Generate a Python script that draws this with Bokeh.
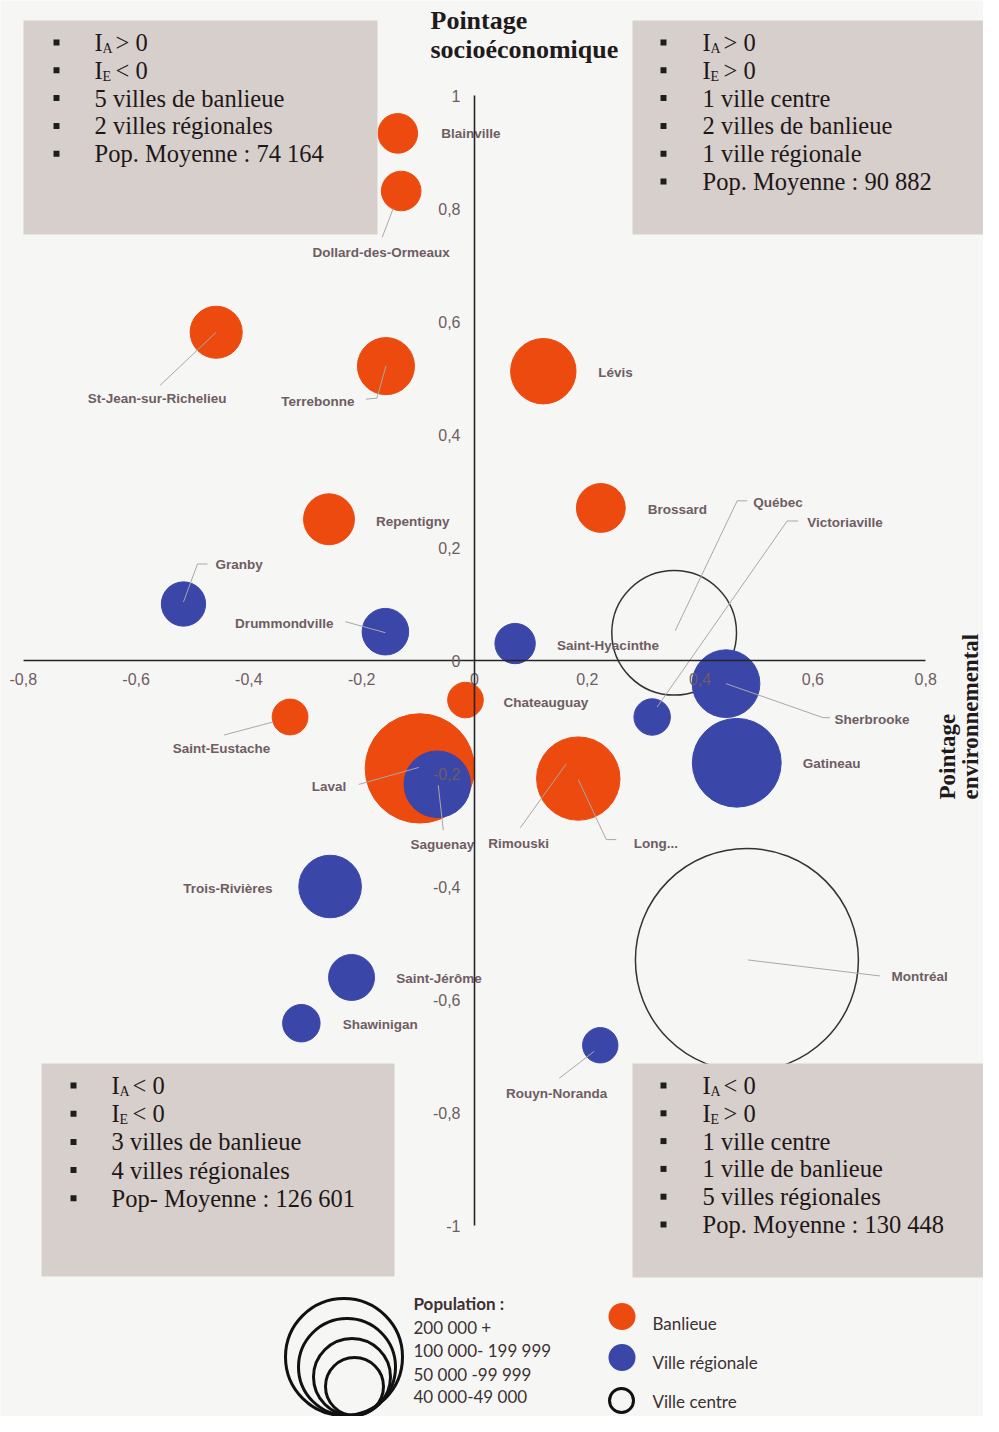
import math
from bokeh.plotting import figure
from bokeh.models import Range1d, FixedTicker, CustomJSTickFormatter, ColumnDataSource
from bokeh.transform import factor_cmap
from bokeh.core.properties import value
from bokeh.embed import file_html
from bokeh.resources import INLINE

# ---------------- data ----------------
CITIES = ["Montréal", "Québec", "Blainville", "Dollard-des-Ormeaux", "St-Jean-sur-Richelieu",
          "Terrebonne", "Lévis", "Repentigny", "Brossard", "Granby", "Drummondville",
          "Saint-Hyacinthe", "Victoriaville", "Sherbrooke", "Gatineau", "Chateauguay",
          "Saint-Eustache", "Laval", "Saguenay", "Rimouski", "Longueuil", "Trois-Rivières",
          "Saint-Jérôme", "Shawinigan", "Rouyn-Noranda"]
LABELS = ["Montréal", "Québec", "Blainville", "Dollard-des-Ormeaux", "St-Jean-sur-Richelieu",
          "Terrebonne", "Lévis", "Repentigny", "Brossard", "Granby", "Drummondville",
          "Saint-Hyacinthe", "Victoriaville", "Sherbrooke", "Gatineau", "Chateauguay",
          "Saint-Eustache", "Laval", "Saguenay", "Rimouski", "Long...", "Trois-Rivières",
          "Saint-Jérôme", "Shawinigan", "Rouyn-Noranda"]
TYPES = ["Ville centre", "Ville centre", "Banlieue", "Banlieue", "Banlieue",
         "Banlieue", "Banlieue", "Banlieue", "Banlieue", "Ville régionale", "Ville régionale",
         "Ville régionale", "Ville régionale", "Ville régionale", "Ville régionale", "Banlieue",
         "Banlieue", "Banlieue", "Ville régionale", "Ville régionale", "Banlieue", "Ville régionale",
         "Ville régionale", "Ville régionale", "Ville régionale"]
# environmental score (x) and socio-economic score (y)
ENVIRO = [0.483, 0.354, -0.136, -0.130, -0.458,
          -0.157, 0.122, -0.258, 0.224, -0.516, -0.158,
          0.072, 0.315, 0.446, 0.465, -0.016,
          -0.327, -0.097, -0.066, 0.161, 0.184, -0.256,
          -0.218, -0.307, 0.223]
SOCIO = [-0.530, 0.049, 0.933, 0.831, 0.581,
         0.521, 0.512, 0.250, 0.270, 0.100, 0.051,
         0.030, -0.100, -0.041, -0.181, -0.070,
         -0.100, -0.191, -0.219, -0.181, -0.209, -0.400,
         -0.561, -0.642, -0.681]
POP = [1650000, 516000, 52000, 52000, 90000,
       108000, 142000, 86000, 79000, 65000, 72000,
       54000, 44000, 152000, 262000, 42000,
       42500, 396000, 147000, 46000, 231000, 130000,
       70000, 46500, 41500]

X_TICKS = [-0.8, -0.6, -0.4, -0.2, 0.0, 0.2, 0.4, 0.6, 0.8]
Y_TICKS = [-1.0, -0.8, -0.6, -0.4, -0.2, 0.0, 0.2, 0.4, 0.6, 0.8, 1.0]

QUADRANTS = [
    [("I", "A", "> 0"), ("I", "E", "< 0"), "5 villes de banlieue", "2 villes régionales",
     "Pop. Moyenne : 74 164"],
    [("I", "A", "> 0"), ("I", "E", "> 0"), "1 ville centre", "2 villes de banlieue",
     "1 ville régionale", "Pop. Moyenne : 90 882"],
    [("I", "A", "< 0"), ("I", "E", "< 0"), "3 villes de banlieue", "4 villes régionales",
     "Pop- Moyenne : 126 601"],
    [("I", "A", "< 0"), ("I", "E", "> 0"), "1 ville centre", "1 ville de banlieue",
     "5 villes régionales", "Pop. Moyenne : 130 448"],
]
POP_TITLE = "Population :"
POP_CLASSES = ["200 000 +", "100 000- 199 999", "50 000 -99 999", "40 000-49 000"]
TYPE_NAMES = ["Banlieue", "Ville régionale", "Ville centre"]

# ---------------- styles / layout ----------------
BG = "#f6f6f5"
ORANGE = "#EC4A0E"
BLUE = "#3A46A8"
BOX_C = "#d6cfcc"
LABEL_C = "#6e5d62"
AXIS_C = "#262626"
PX_X = 564.0   # pixels per unit on x
PX_Y = 565.0   # pixels per unit on y
K = 0.0868     # radius (px) per sqrt(population)


def X(px):
    return (px - 474.0) / PX_X


def Y(py):
    return (660.0 - py) / PX_Y


# label offsets (px, from bubble centre): dx, dy, align, leader points
LAYOUT = {
    "Blainville": (43.5, 0, "left", []),
    "Dollard-des-Ormeaux": (-20, 61.5, "center", [(-8, 17.5), (-19, 46.5)]),
    "St-Jean-sur-Richelieu": (-59, 66, "center", [(0, 0), (-56, 53)]),
    "Terrebonne": (-68, 35, "center", [(0, 0), (-9, 32), (-20, 33)]),
    "Lévis": (55, 1, "left", []),
    "Repentigny": (47, 2.5, "left", []),
    "Brossard": (47, 1.5, "left", []),
    "Granby": (32, -40, "left", [(0, -2), (14, -40), (24, -40)]),
    "Drummondville": (-52, -8, "right", [(0, 1), (-40, -10)]),
    "Saint-Hyacinthe": (42, 2, "left", []),
    "Québec": (79, -130.5, "left", [(1, -2), (63, -132), (73, -132)]),
    "Victoriaville": (155, -195, "left", [(5, -10), (135, -196), (146, -196)]),
    "Sherbrooke": (108.5, 36, "left", [(0, 0), (97, 34), (104, 34)]),
    "Gatineau": (66, 0.5, "left", []),
    "Chateauguay": (38, 2.5, "left", []),
    "Saint-Eustache": (-68.5, 31, "center", [(-17, 5), (-66, 18)]),
    "Laval": (-73.5, 18, "right", [(-1, -1), (-61, 16)]),
    "Saguenay": (5, 60, "center", [(1, 1), (6, 46)]),
    "Rimouski": (-77, 81, "left", [(1, 1), (-45, 65)]),
    "Longueuil": (55.5, 65, "left", [(0, 1), (28, 61), (38, 61)]),
    "Trois-Rivières": (-57.5, 2, "right", []),
    "Saint-Jérôme": (44.7, 1.3, "left", []),
    "Shawinigan": (41.3, 1.5, "left", []),
    "Rouyn-Noranda": (-43.7, 48.5, "center", [(-6, 6), (-41, 33)]),
    "Montréal": (144.5, 16.5, "left", [(1, 0), (133, 16)]),
}

W, H = 983, 1416
p = figure(width=W, height=H, x_range=Range1d(X(0), X(W)), y_range=Range1d(Y(H), Y(0)),
           output_backend="svg", toolbar_location=None, min_border=0,
           outline_line_color=None, background_fill_color=BG, border_fill_color=BG)
p.grid.visible = False

fmt = CustomJSTickFormatter(code="return String(Math.round(tick*10)/10).replace('.', ',');")
for ax, ticks, bnds, standoff in ((p.xaxis, X_TICKS, (-0.8, 0.8), 12), (p.yaxis, Y_TICKS, (-1, 1), 14)):
    ax.fixed_location = 0
    ax.bounds = bnds
    ax.ticker = FixedTicker(ticks=ticks)
    ax.formatter = fmt
    ax.major_tick_in = 0
    ax.major_tick_out = 0
    ax.minor_tick_in = 0
    ax.minor_tick_out = 0
    ax.major_tick_line_color = None
    ax.minor_tick_line_color = None
    ax.axis_line_color = AXIS_C
    ax.axis_line_width = 1.6
    ax.major_label_text_font = "Liberation Sans"
    ax.major_label_text_font_size = "16px"
    ax.major_label_text_color = LABEL_C
    ax.major_label_standoff = standoff

# ---------------- bubbles ----------------
sizes = [2 * K * math.sqrt(v) for v in POP]
centre_idx = [i for i, t in enumerate(TYPES) if t == "Ville centre"]
fill_idx = [i for i, t in enumerate(TYPES) if t != "Ville centre"]

src_c = ColumnDataSource(dict(x=[ENVIRO[i] for i in centre_idx], y=[SOCIO[i] for i in centre_idx],
                              s=[sizes[i] for i in centre_idx]))
p.scatter("x", "y", size="s", source=src_c, fill_color=None, line_color="#333333", line_width=1.5)

src_f = ColumnDataSource(dict(x=[ENVIRO[i] for i in fill_idx], y=[SOCIO[i] for i in fill_idx],
                              s=[sizes[i] for i in fill_idx], t=[TYPES[i] for i in fill_idx]))
cmap = factor_cmap("t", palette=[ORANGE, BLUE], factors=["Banlieue", "Ville régionale"])
p.scatter("x", "y", size="s", source=src_f, fill_color=cmap, line_color=cmap, line_width=1)

# ---------------- leaders & labels ----------------
lx, ly = [], []
tx = {"left": [], "center": [], "right": []}
for i, c in enumerate(CITIES):
    dx, dy, al, pts = LAYOUT[c]
    if pts:
        lx.append([ENVIRO[i] + a / PX_X for a, b in pts])
        ly.append([SOCIO[i] - b / PX_Y for a, b in pts])
    tx[al].append((ENVIRO[i] + dx / PX_X, SOCIO[i] - dy / PX_Y, LABELS[i]))
p.multi_line(lx, ly, line_color="#a8a8a8", line_width=1)
for al, items in tx.items():
    if not items:
        continue
    p.text([a for a, b, c in items], [b for a, b, c in items], text=[c for a, b, c in items],
           text_align=al, text_baseline="middle", text_font=value("Liberation Sans"),
           text_font_style="bold", text_font_size="13.5px", text_color=LABEL_C)

# ---------------- quadrant boxes ----------------
BOX_GEOM = [(23, 20, 377, 234, 56, 94, 42, 27.8), (632, 20, 986, 234, 663, 702, 42, 27.8),
            (41, 1063, 394, 1276, 73, 111, 1085, 28.2), (632, 1063, 986, 1277, 663, 702, 1085, 27.8)]
serif = value("Liberation Serif")
TXT_C = "#1f1717"
FS = "24.5px"
for (l, t, r, b, bx, txx, y0, dyy), lines in zip(BOX_GEOM, QUADRANTS):
    p.quad(left=X(l), right=X(r), top=Y(t), bottom=Y(b), fill_color=BOX_C, line_color=None)
    ys = [y0 + k * dyy for k in range(len(lines))]
    p.scatter([X(bx)] * len(lines), [Y(v) for v in ys], marker="square", size=6,
              fill_color="#1e1e1e", line_color=None)
    for line, yy in zip(lines, ys):
        if isinstance(line, tuple):
            main, sub, rest = line
            p.text([X(txx)], [Y(yy)], text=[main], text_font=serif, text_font_size=FS,
                   text_baseline="middle", text_color=TXT_C)
            p.text([X(txx + 8)], [Y(yy + 6)], text=[sub], text_font=serif, text_font_size="14px",
                   text_baseline="middle", text_color=TXT_C)
            p.text([X(txx + 21)], [Y(yy)], text=[rest], text_font=serif, text_font_size=FS,
                   text_baseline="middle", text_color=TXT_C)
        else:
            p.text([X(txx)], [Y(yy)], text=[line], text_font=serif, text_font_size=FS,
                   text_baseline="middle", text_color=TXT_C)

# ---------------- axis titles ----------------
p.text([X(430), X(430)], [Y(20), Y(49)], text=["Pointage", "socioéconomique"], text_font=serif,
       text_font_style="bold", text_font_size="26px", text_baseline="middle", text_color="#221a1a")
p.text([X(947), X(970)], [Y(799), Y(799)], text=["Pointage", "environnemental"], angle=math.pi / 2,
       text_font=serif, text_font_style="bold", text_font_size="23px", text_baseline="middle",
       text_align="left", text_color="#221a1a")

# ---------------- legend ----------------
LDY = -20
LEG_R = [58.5, 48.5, 38.5, 29]
LEG_CX = [343.5, 346.5, 351.5, 354]
p.scatter([X(v) for v in LEG_CX], [Y(1435 + LDY - r) for r in LEG_R], size=[2 * r for r in LEG_R],
          fill_color=None, line_color="#111111", line_width=3)
sans = value("Lato")
LEG_C = "#3b3131"
p.text([X(413)], [Y(1323 + LDY)], text=[POP_TITLE], text_font=sans, text_font_style="bold",
       text_font_size="17px", text_baseline="middle", text_color=LEG_C)
p.text([X(413)] * 4, [Y(v + LDY) for v in (1347, 1370, 1394, 1416)], text=POP_CLASSES, text_font=sans,
       text_font_size="17px", text_baseline="middle", text_color=LEG_C)
p.scatter([X(621.5), X(621.5)], [Y(1336 + LDY), Y(1377 + LDY)], size=27, fill_color=[ORANGE, BLUE],
          line_color=None)
p.scatter([X(621)], [Y(1420 + LDY)], size=24, fill_color=None, line_color="#111111", line_width=3)
p.text([X(652)] * 3, [Y(v + LDY) for v in (1343, 1382, 1421)], text=TYPE_NAMES, text_font=sans,
       text_font_size="17px", text_baseline="middle", text_color=LEG_C)

open("out.html", "w").write(file_html(p, INLINE))
